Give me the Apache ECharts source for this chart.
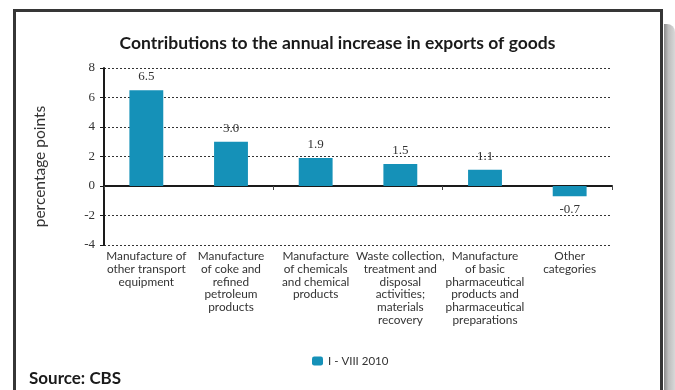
<!DOCTYPE html>
<html>
<head>
<meta charset="utf-8">
<script src="https://cdn.jsdelivr.net/npm/echarts@6/dist/echarts.min.js"></script>
<style>
  html, body { margin: 0; padding: 0; background: #fff; }
  #chart { width: 675px; height: 390px; }
</style>
</head>
<body>
<div id="chart"></div>
<script>
// Contributions to the annual increase in exports of goods, I - VIII 2010
const categories = [
  'Manufacture of\nother transport\nequipment',
  'Manufacture\nof coke and\nrefined\npetroleum\nproducts',
  'Manufacture\nof chemicals\nand chemical\nproducts',
  'Waste collection,\ntreatment and\ndisposal\nactivities;\nmaterials\nrecovery',
  'Manufacture\nof basic\npharmaceutical\nproducts and\npharmaceutical\npreparations',
  'Other\ncategories'
];
const seriesName = 'I - VIII 2010';
const contributions = [6.5, 3.0, 1.9, 1.5, 1.1, -0.7];
const yTicks = { min: -4, max: 8, step: 2 };

const sans = 'Lato, "Open Sans", sans-serif';
const serif = '"Liberation Serif", "DejaVu Serif", serif';
const ink = '#333333';
const barColor = '#1591b8';

const chart = echarts.init(document.getElementById('chart'), null, { renderer: 'canvas' });

// negative bars carry their value label underneath
const barData = contributions.map(v => ({
  value: v,
  label: { position: v < 0 ? 'bottom' : 'top' }
}));

chart.setOption({
  backgroundColor: '#ffffff',
  animation: false,
  title: [
    {
      text: 'Contributions to the annual increase in exports of goods',
      left: 'center',
      top: 29,
      textStyle: { fontFamily: sans, fontSize: 17.5, fontWeight: 'bold', color: '#1a1a1a' }
    },
    {
      text: 'Source: CBS',
      left: 24,
      top: 365,
      textStyle: { fontFamily: sans, fontSize: 17, fontWeight: 'bold', color: '#1a1a1a' }
    }
  ],
  legend: {
    data: [seriesName],
    left: 307,
    top: 350,
    itemWidth: 11,
    itemHeight: 9,
    itemGap: 6,
    textStyle: { fontFamily: sans, fontSize: 11.5, color: ink }
  },
  grid: { left: 104, right: 63, top: 68, bottom: 145, containLabel: false },
  xAxis: [
    {
      type: 'category',
      data: categories,
      axisLine: { onZero: true, lineStyle: { color: '#1a1a1a', width: 2 } },
      axisTick: { show: true, length: 4, lineStyle: { color: '#444', width: 1 } },
      axisLabel: { show: false },
      splitLine: { show: false }
    },
    {
      type: 'category',
      data: categories,
      position: 'bottom',
      axisLine: { show: false, onZero: false },
      axisTick: { show: false },
      axisLabel: {
        interval: 0,
        margin: 5,
        fontFamily: sans,
        fontSize: 11.8,
        lineHeight: 12.7,
        color: ink
      },
      splitLine: { show: false }
    }
  ],
  yAxis: {
    type: 'value',
    min: yTicks.min,
    max: yTicks.max,
    interval: yTicks.step,
    name: 'percentage points',
    nameLocation: 'middle',
    nameGap: 56,
    nameTextStyle: { fontFamily: sans, fontSize: 15.5, color: ink, padding: [0, 20, 0, 0] },
    axisLine: { show: true, lineStyle: { color: '#1a1a1a', width: 2 } },
    axisTick: { show: true, length: 4, lineStyle: { color: '#1a1a1a', width: 1 } },
    axisLabel: { fontFamily: serif, fontSize: 13, color: ink, margin: 9 },
    splitLine: { show: true, lineStyle: { color: '#333', width: 1, type: [2, 2] } }
  },
  series: [
    {
      name: seriesName,
      type: 'bar',
      xAxisIndex: 0,
      data: barData,
      barWidth: '40%',
      itemStyle: { color: barColor },
      label: {
        show: true,
        distance: 7,
        fontFamily: serif,
        fontSize: 13,
        color: ink,
        formatter: p => p.value.toFixed(1)
      }
    }
  ],
  graphic: [
    // drop shadow along the right edge of the panel
    {
      type: 'rect',
      shape: { x: 664, y: 24, width: 11, height: 380, r: [0, 8, 0, 0] },
      style: {
        fill: new echarts.graphic.LinearGradient(0, 0, 1, 0, [
          { offset: 0, color: '#8a8a8a' },
          { offset: 0.4, color: '#bdbdbd' },
          { offset: 1, color: '#d8d8d8' }
        ])
      },
      silent: true
    },
    // panel frame
    {
      type: 'rect',
      shape: { x: 14.5, y: 10.5, width: 647, height: 390 },
      style: { fill: 'none', stroke: '#363636', lineWidth: 3 },
      silent: true
    }
  ]
});
</script>
</body>
</html>
